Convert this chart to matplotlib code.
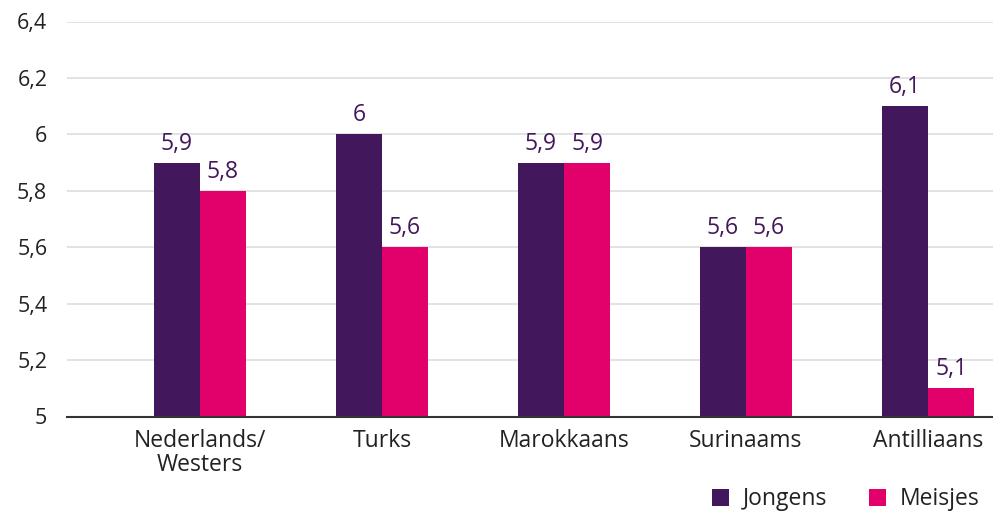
import matplotlib.pyplot as plt
import numpy as np

plt.rcParams['font.family'] = ['Open Sans', 'DejaVu Sans']

categories = ['Nederlands/\nWesters', 'Turks', 'Marokkaans', 'Surinaams', 'Antilliaans']
jongens = [5.9, 6.0, 5.9, 5.6, 6.1]
meisjes = [5.8, 5.6, 5.9, 5.6, 5.1]
yticks = [5, 5.2, 5.4, 5.6, 5.8, 6, 6.2, 6.4]

c_jong = '#42175c'
c_meis = '#e2006a'

def fmt(v):
    s = ('%.1f' % v).rstrip('0').rstrip('.')
    return s.replace('.', ',')

fig = plt.figure(figsize=(9.93, 5.14), dpi=100)
ax = fig.add_axes([66.7 / 993, 1 - 416.5 / 514, (993 - 66.7) / 993, (416.5 - 21.5) / 514])

x = np.arange(len(categories))
w = 0.253
ax.bar(x - w / 2, np.array(jongens) - 5, w, bottom=5, color=c_jong, label='Jongens', zorder=3)
ax.bar(x + w / 2, np.array(meisjes) - 5, w, bottom=5, color=c_meis, label='Meisjes', zorder=3)

for xs, vals in ((x - w / 2, jongens), (x + w / 2, meisjes)):
    for xi, v in zip(xs, vals):
        ax.annotate(fmt(v), (xi, v), xytext=(0, 5), textcoords='offset points',
                    ha='center', va='bottom', fontsize=16.5, color=c_jong)

ax.set_ylim(5, 6.4)
ax.set_xlim(-0.732, 4.357)
ax.set_yticks(yticks)
ax.set_yticklabels([fmt(t) for t in yticks], fontsize=15.5, color='#222222')
ax.set_xticks(x)
ax.set_xticklabels(categories, fontsize=16.5, color='#222222', linespacing=1.0)
ax.tick_params(axis='both', length=0)
ax.tick_params(axis='y', pad=14)
ax.tick_params(axis='x', pad=9)
ax.grid(axis='y', color='#dddddd', linewidth=1.2, zorder=0)
for s in ['top', 'right', 'left']:
    ax.spines[s].set_visible(False)
ax.spines['bottom'].set_color('#333333')
ax.spines['bottom'].set_linewidth(1.5)
ax.spines['bottom'].set_zorder(4)

ax.legend(loc='lower right', bbox_to_anchor=(1.0, -0.275), ncol=2, frameon=False,
          fontsize=16.5, handlelength=0.75, handleheight=0.75, columnspacing=1.8,
          handletextpad=0.6, labelcolor='#222222', borderaxespad=0.2)

fig.savefig('out.png', dpi=100)
